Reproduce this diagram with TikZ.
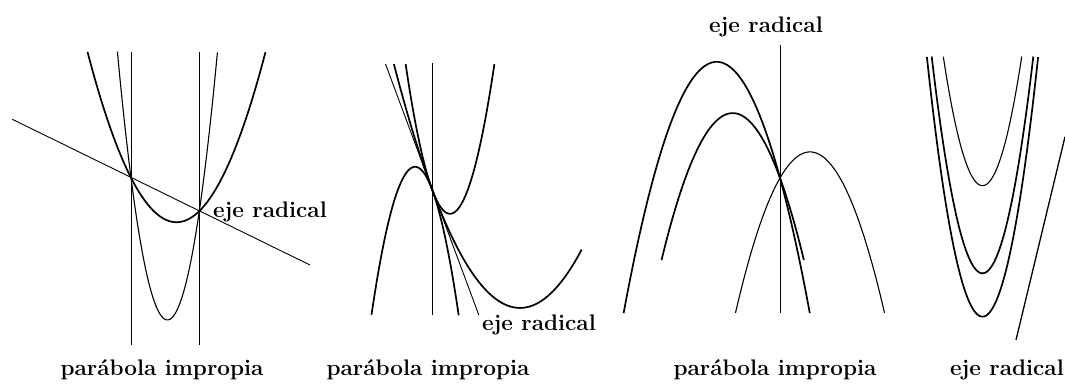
\documentclass[tikz,border=0pt]{standalone}
\usepackage{fontspec}
\usepackage{tikz}

\begin{document}
\begin{tikzpicture}[x=10pt, y=10pt,
		recta/.style={line width=0.9pt},
		parab/.style={line width=1.7pt, smooth},
		parabfina/.style={line width=1.1pt, smooth},
		rotulo/.style={inner sep=0pt, font=\fontsize{22.5}{25}\selectfont\bfseries}]
				\useasboundingbox (0,0) rectangle (106.5,38.3);
				
				% Haz 1: dos puntos comunes
				\draw[recta] (13.1,3.8) -- (13.1,33.1);
				\draw[recta] (19.93,3.8) -- (19.93,33.1);
				\draw[recta] (1.23,26.37) -- (31.0,11.8);
				\draw[parab, domain=8.75:26.55, samples=60] plot (\x, {20.53-0.489*(\x-13.1)+0.215*(\x-13.1)*(\x-19.93)});
				\draw[parabfina, domain=11.74:21.74, samples=60] plot (\x, {20.53-0.489*(\x-13.1)+1.072*(\x-13.1)*(\x-19.93)});
				\node[rotulo, anchor=base west] (eje1) at (21.3,16.5) {eje radical};
				\node[rotulo, anchor=base] (imp1) at (16.2,0.75) {parábola impropia};
				
				% Haz 2: tangentes en un punto
				\draw[recta] (43.23,6.8) -- (43.23,31.97);
				\draw[recta] (38.55,31.9) -- (47.88,6.8);
				\draw[parab, domain=-2.67:6.21, samples=60] plot ({43.23+\x}, {19.3-2.69*\x+0.76*\x*\x});
				\draw[parab, domain=-6.08:2.64, samples=60] plot ({43.23+\x}, {19.3-2.69*\x-0.78*\x*\x});
				\draw[parab, domain=-3.84:14.94, samples=80] plot ({43.23+\x}, {19.3-2.69*\x+0.1534*\x*\x});
				\node[rotulo, anchor=base west] (eje2) at (48.2,5.3) {eje radical};
				\node[rotulo, anchor=base] (imp2) at (42.8,0.75) {parábola impropia};
				
				% Haz 3: un punto comun
				\draw[recta] (78.0,7.0) -- (78.0,33.8);
				\draw[parab, domain=-9.31:9.31, samples=60] plot ({71.67+\x}, {32.12-0.29*\x*\x});
				\draw[parab, domain=-7.12:7.12, samples=60] plot ({73.27+\x}, {26.99-0.29*\x*\x});
				\draw[parabfina, domain=-7.45:7.45, samples=60] plot ({81.0+\x}, {23.11-0.29*\x*\x});
				\node[rotulo, anchor=base] (eje3) at (76.6,35.0) {eje radical};
				\node[rotulo, anchor=base] (imp3) at (77.5,0.75) {parábola impropia};
				
				% Haz 4: sin puntos comunes
				\draw[parabfina, domain=-3.92:3.92, samples=60] plot ({98.25+\x}, {19.73+0.84*\x*\x});
				\draw[parab, domain=-5.08:5.08, samples=60] plot ({98.25+\x}, {10.97+0.84*\x*\x});
				\draw[parab, domain=-5.56:5.56, samples=60] plot ({98.25+\x}, {6.63+0.84*\x*\x});
				\draw[recta, line width=1.3pt] (101.6,4.3) -- (106.5,24.63);
				\node[rotulo, anchor=base east] (eje4) at (106.4,0.75) {eje radical};
			\end{tikzpicture}
\end{document}
